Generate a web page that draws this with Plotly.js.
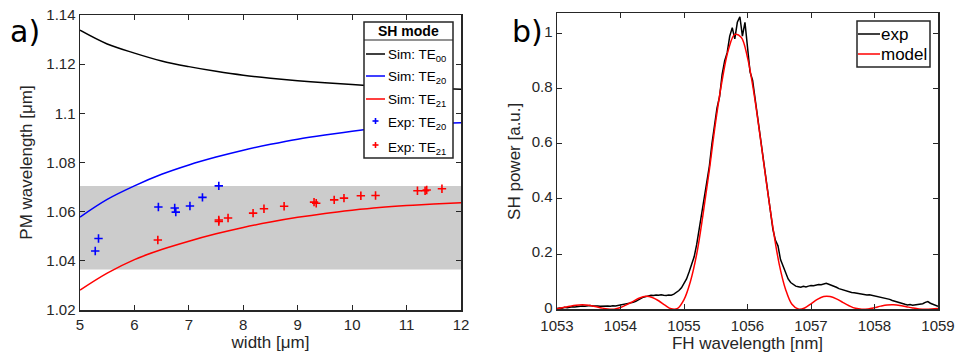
<!DOCTYPE html>
<html>
<head>
<meta charset="utf-8">
<script src="https://cdn.plot.ly/plotly-3.0.1.min.js"></script>
<style>html,body{margin:0;padding:0;background:#fff;}#chart{width:959px;height:356px;}</style>
</head>
<body>
<div id="chart"></div>
<script>
// ---- Panel a) data ----
const simWidth = [5,5.5,6,6.5,7,7.5,8,8.5,9,9.5,10,10.5,11,11.5,12];
const simTE00 = [1.1338,1.1282,1.1245,1.1213,1.1190,1.1171,1.1155,1.1143,1.1133,1.1124,1.1117,1.1111,1.1106,1.1102,1.1098];
const simTE20 = [1.0578,1.0650,1.0705,1.0752,1.0790,1.0822,1.0850,1.0874,1.0895,1.0912,1.0927,1.0940,1.0950,1.0957,1.0962];
const simTE21 = [1.0281,1.0350,1.0405,1.0446,1.0480,1.0510,1.0536,1.0558,1.0577,1.0593,1.0606,1.0617,1.0625,1.0631,1.0636];
const expTE20Width = [5.28,5.34,6.44,6.74,6.76,7.02,7.25,7.55];
const expTE20 = [1.0440,1.0491,1.0619,1.0615,1.0598,1.0623,1.0658,1.0705];
const expTE21Width = [6.43,7.55,7.55,7.72,8.18,8.38,8.75,9.30,9.34,9.67,9.85,10.16,10.43,11.20,11.34,11.37,11.65];
const expTE21 = [1.0485,1.0560,1.0566,1.0574,1.0594,1.0612,1.0622,1.0639,1.0634,1.0648,1.0655,1.0665,1.0666,1.0685,1.0685,1.0688,1.0693];
const bandLow = 1.0365, bandHigh = 1.0704;
const aXTicks = [5,6,7,8,9,10,11,12];
const aYTicks = [1.02,1.04,1.06,1.08,1.1,1.12,1.14];
const aYTickText = ['1.02','1.04','1.06','1.08','1.1','1.12','1.14'];
const aLegendTitle = 'SH mode';
const aLegendNames = ['Sim: TE<sub>00</sub>','Sim: TE<sub>20</sub>','Sim: TE<sub>21</sub>','Exp: TE<sub>20</sub>','Exp: TE<sub>21</sub>'];

// ---- Panel b) data ----
const modelWl = [1053.0,1053.1,1053.2,1053.3,1053.4,1053.5,1053.6,1053.7,1053.8,1053.9,
 1054.0,1054.1,1054.2,1054.3,1054.4,1054.5,1054.6,1054.7,1054.8,1054.9,
 1055.0,1055.1,1055.2,1055.3,1055.4,1055.5,1055.6,1055.7,1055.8,1055.9,
 1056.0,1056.1,1056.2,1056.3,1056.4,1056.5,1056.6,1056.7,1056.8,1056.9,
 1057.0,1057.1,1057.2,1057.3,1057.4,1057.5,1057.6,1057.7,1057.8,1057.9,
 1058.0,1058.1,1058.2,1058.3,1058.4,1058.5,1058.6,1058.7,1058.8,1058.9,1059.0];
const modelPow = [0.0022,0.0063,0.0110,0.0148,0.0162,0.0147,0.0105,0.0050,0.0008,0.0006,
 0.0065,0.0170,0.0290,0.0410,0.0470,0.0430,0.0310,0.0150,0.0017,0.0035,
 0.0350,0.1000,0.2000,0.3440,0.5060,0.6820,0.8290,0.9410,0.9960,0.9860,
 0.9120,0.7850,0.6250,0.4550,0.2970,0.1630,0.0720,0.0180,0.0008,0.0048,
 0.0200,0.0360,0.0460,0.0460,0.0380,0.0250,0.0130,0.0035,0.0001,0.0015,
 0.0060,0.0115,0.0155,0.0162,0.0140,0.0095,0.0050,0.0014,0.0000,0.0009,0.0030];
const expWl = [1053.00,1053.04,1053.08,1053.12,1053.16,1053.20,1053.24,1053.28,1053.32,1053.36,
 1053.40,1053.44,1053.48,1053.52,1053.56,1053.60,1053.64,1053.68,1053.72,1053.76,
 1053.80,1053.84,1053.88,1053.92,1053.96,1054.00,1054.04,1054.08,1054.12,1054.16,
 1054.20,1054.24,1054.28,1054.32,1054.36,1054.40,1054.44,1054.48,1054.52,1054.56,
 1054.60,1054.64,1054.68,1054.72,1054.76,1054.80,1054.84,1054.88,1054.92,1054.96,
 1055.00,1055.04,1055.08,1055.12,1055.16,1055.20,1055.24,1055.28,1055.32,1055.36,
 1055.40,1055.44,1055.48,1055.52,1055.56,1055.60,1055.64,1055.68,1055.72,1055.76,
 1055.80,1055.84,1055.88,1055.92,1055.96,1056.00,1056.04,1056.08,1056.12,1056.16,
 1056.20,1056.24,1056.28,1056.32,1056.36,1056.40,1056.44,1056.48,1056.52,1056.56,
 1056.60,1056.64,1056.68,1056.72,1056.76,1056.80,1056.84,1056.88,1056.92,1056.96,
 1057.00,1057.04,1057.08,1057.12,1057.16,1057.20,1057.24,1057.28,1057.32,1057.36,
 1057.40,1057.44,1057.48,1057.52,1057.56,1057.60,1057.64,1057.68,1057.72,1057.76,
 1057.80,1057.84,1057.88,1057.92,1057.96,1058.00,1058.04,1058.08,1058.12,1058.16,
 1058.20,1058.24,1058.28,1058.32,1058.36,1058.40,1058.44,1058.48,1058.52,1058.56,
 1058.60,1058.64,1058.68,1058.72,1058.76,1058.80,1058.84,1058.88,1058.92,1058.96,1059.00];
const expPow = [0.003,0.005,0.004,0.007,0.006,0.008,0.009,0.008,0.010,0.011,
 0.012,0.011,0.013,0.014,0.012,0.013,0.012,0.011,0.012,0.011,
 0.012,0.011,0.013,0.012,0.014,0.015,0.016,0.018,0.020,0.022,
 0.025,0.029,0.034,0.040,0.044,0.046,0.049,0.051,0.050,0.052,
 0.051,0.053,0.051,0.050,0.052,0.051,0.055,0.060,0.068,0.078,
 0.092,0.110,0.135,0.165,0.190,0.235,0.290,0.350,0.400,0.470,
 0.520,0.600,0.660,0.730,0.770,0.850,0.900,0.930,0.990,1.020,
 0.980,1.040,1.060,0.990,1.040,0.950,0.860,0.830,0.760,0.700,
 0.630,0.550,0.480,0.410,0.350,0.290,0.250,0.230,0.180,0.155,
 0.130,0.110,0.097,0.090,0.084,0.082,0.080,0.083,0.081,0.084,
 0.086,0.085,0.088,0.090,0.089,0.092,0.094,0.091,0.088,0.084,
 0.080,0.075,0.072,0.068,0.066,0.063,0.061,0.060,0.058,0.057,
 0.055,0.054,0.052,0.053,0.051,0.050,0.048,0.046,0.044,0.042,
 0.039,0.036,0.032,0.029,0.025,0.022,0.020,0.018,0.016,0.017,
 0.015,0.016,0.018,0.017,0.020,0.025,0.028,0.022,0.018,0.014,0.011];
const bXTicks = [1053,1054,1055,1056,1057,1058,1059];
const bYTicks = [0,0.2,0.4,0.6,0.8,1];
const bYTickText = ['0','0.2','0.4','0.6','0.8','1'];
const bLegendNames = ['exp','model'];

const FONT = 'Liberation Sans, Arial, sans-serif';
const AX = '#262626';
const W = 959, H = 356;
const px = v => v / W;
const py = v => 1 - v / H;

const traces = [
  {x: simWidth, y: simTE00, type:'scatter', mode:'lines', line:{color:'#000000', width:1.5, shape:'spline'}, name:aLegendNames[0], xaxis:'x', yaxis:'y'},
  {x: simWidth, y: simTE20, type:'scatter', mode:'lines', line:{color:'#0000ff', width:1.5, shape:'spline'}, name:aLegendNames[1], xaxis:'x', yaxis:'y'},
  {x: simWidth, y: simTE21, type:'scatter', mode:'lines', line:{color:'#ff0000', width:1.5, shape:'spline'}, name:aLegendNames[2], xaxis:'x', yaxis:'y'},
  {x: expTE20Width, y: expTE20, type:'scatter', mode:'markers', marker:{symbol:'cross-thin', size:6, line:{color:'#0000ff', width:1.6}, color:'#0000ff'}, name:aLegendNames[3], xaxis:'x', yaxis:'y'},
  {x: expTE21Width, y: expTE21, type:'scatter', mode:'markers', marker:{symbol:'cross-thin', size:6, line:{color:'#ff0000', width:1.6}, color:'#ff0000'}, name:aLegendNames[4], xaxis:'x', yaxis:'y'},
  {x: expWl, y: expPow, type:'scatter', mode:'lines', line:{color:'#000000', width:1.5}, name:bLegendNames[0], xaxis:'x2', yaxis:'y2'},
  {x: modelWl, y: modelPow, type:'scatter', mode:'lines', line:{color:'#ff0000', width:1.5, shape:'spline'}, name:bLegendNames[1], xaxis:'x2', yaxis:'y2'}
];

const axCommon = {showline:true, linecolor:AX, linewidth:1.5, mirror:'ticks', ticks:'inside', ticklen:5, tickwidth:1, tickcolor:AX, showgrid:false, zeroline:false, tickfont:{family:FONT, size:15, color:AX}};

// manual legends (box, separator, samples, labels)
const shapes = [
  {type:'rect', xref:'x', yref:'y', x0:5, x1:12, y0:bandLow, y1:bandHigh, fillcolor:'#cccccc', line:{width:0}, layer:'below'},
  // legend a)
  {type:'rect', xref:'paper', yref:'paper', x0:px(364), x1:px(453), y0:py(158), y1:py(22), fillcolor:'#ffffff', line:{color:AX, width:1.5}},
  {type:'line', xref:'paper', yref:'paper', x0:px(364), x1:px(453), y0:py(40), y1:py(40), line:{color:AX, width:1.2}},
  {type:'line', xref:'paper', yref:'paper', x0:px(366), x1:px(385), y0:py(54), y1:py(54), line:{color:'#000000', width:1.5}},
  {type:'line', xref:'paper', yref:'paper', x0:px(366), x1:px(385), y0:py(76), y1:py(76), line:{color:'#0000ff', width:1.5}},
  {type:'line', xref:'paper', yref:'paper', x0:px(366), x1:px(385), y0:py(99), y1:py(99), line:{color:'#ff0000', width:1.5}},
  {type:'line', xref:'paper', yref:'paper', x0:px(372.5), x1:px(378.5), y0:py(121), y1:py(121), line:{color:'#0000ff', width:1.6}},
  {type:'line', xref:'paper', yref:'paper', x0:px(375.5), x1:px(375.5), y0:py(118), y1:py(124), line:{color:'#0000ff', width:1.6}},
  {type:'line', xref:'paper', yref:'paper', x0:px(372.5), x1:px(378.5), y0:py(145), y1:py(145), line:{color:'#ff0000', width:1.6}},
  {type:'line', xref:'paper', yref:'paper', x0:px(375.5), x1:px(375.5), y0:py(142), y1:py(148), line:{color:'#ff0000', width:1.6}},
  // legend b)
  {type:'rect', xref:'paper', yref:'paper', x0:px(857), x1:px(930), y0:py(67), y1:py(21), fillcolor:'#ffffff', line:{color:AX, width:1.5}},
  {type:'line', xref:'paper', yref:'paper', x0:px(858), x1:px(880), y0:py(34), y1:py(34), line:{color:'#000000', width:1.5}},
  {type:'line', xref:'paper', yref:'paper', x0:px(858), x1:px(880), y0:py(54), y1:py(54), line:{color:'#ff0000', width:1.5}}
];

const legText = (t, x, y, size, anchor) => ({text:t, xref:'paper', yref:'paper', x:px(x), y:py(y), xanchor:anchor||'left', yanchor:'middle', showarrow:false, font:{family:FONT, size:size, color:'#000'}});

const annotations = [
  {text:'a)', xref:'paper', yref:'paper', x:px(8), y:py(12), xanchor:'left', yanchor:'top', showarrow:false, font:{family:'DejaVu Sans', size:30, color:'#000'}},
  {text:'b)', xref:'paper', yref:'paper', x:px(510), y:py(12), xanchor:'left', yanchor:'top', showarrow:false, font:{family:'DejaVu Sans', size:30, color:'#000'}},
  legText('<b>' + aLegendTitle + '</b>', 408.5, 31.5, 14, 'center'),
  legText(aLegendNames[0], 386, 55.5, 13.5),
  legText(aLegendNames[1], 386, 77.5, 13.5),
  legText(aLegendNames[2], 386, 100, 13.5),
  legText(aLegendNames[3], 386, 124, 13.5),
  legText(aLegendNames[4], 386, 148, 13.5),
  legText(bLegendNames[0], 879, 34, 17),
  legText(bLegendNames[1], 879, 54, 17)
];

const layout = {
  width:W, height:H,
  margin:{l:0, r:0, t:0, b:0},
  paper_bgcolor:'#ffffff', plot_bgcolor:'#ffffff',
  font:{family:FONT, color:AX},
  showlegend:false,
  xaxis: Object.assign({}, axCommon, {domain:[px(80), px(461)], range:[5,12], tickvals:aXTicks, ticktext:aXTicks.map(String), anchor:'y',
    title:{text:'width [μm]', font:{family:FONT, size:17, color:AX}, standoff:4}}),
  yaxis: Object.assign({}, axCommon, {domain:[py(310), py(15)], range:[1.02,1.14], tickvals:aYTicks, ticktext:aYTickText, anchor:'x',
    title:{text:'PM wavelength [μm]', font:{family:FONT, size:17, color:AX}, standoff:9}}),
  xaxis2: Object.assign({}, axCommon, {domain:[px(557), px(938)], range:[1053,1059], tickvals:bXTicks, ticktext:bXTicks.map(String), anchor:'y2',
    ticklabelstandoff:2, title:{text:'FH wavelength [nm]', font:{family:FONT, size:17, color:AX}, standoff:2}}),
  yaxis2: Object.assign({}, axCommon, {domain:[py(309.3), py(13.3)], range:[0,1.0725], tickvals:bYTicks, ticktext:bYTickText, anchor:'x2',
    ticklabelshift:-2, title:{text:'SH power [a.u.]', font:{family:FONT, size:17, color:AX}, standoff:6}}),
  shapes: shapes,
  annotations: annotations
};

Plotly.newPlot('chart', traces, layout, {displayModeBar:false, staticPlot:true});
</script>
</body>
</html>
